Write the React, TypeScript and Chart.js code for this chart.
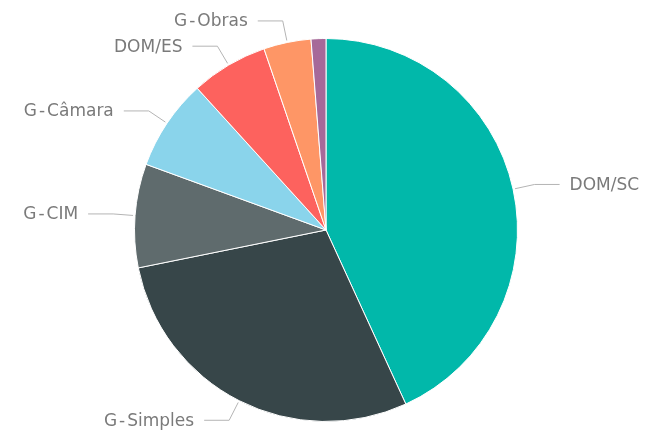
import React, { useEffect, useRef } from "react";
import { Chart, registerables } from "chart.js";

Chart.register(...registerables);

const categories = ["DOM/SC", "G-Simples", "G-CIM", "G-Câmara", "DOM/ES", "G-Obras", "Outros"];
const values = [43.2, 28.7, 8.75, 7.7, 6.5, 4.0, 1.25];
const colors = ["#01B8AA", "#374649", "#5F6B6D", "#8AD4EB", "#FD625E", "#FE9666", "#A66999"];
const showLabel = [true, true, true, true, true, true, false];

function drawLabel(ctx: CanvasRenderingContext2D, text: string, x: number, y: number, alignRight: boolean) {
  // draw with DIN-like spacing around the hyphen
  const pad = 2;
  const parts = text.split(/(-)/);
  const widths = parts.map((p) => ctx.measureText(p).width + (p === "-" ? pad * 2 : 0));
  const total = widths.reduce((a, b) => a + b, 0);
  let cx = alignRight ? x - total : x;
  ctx.textAlign = "left";
  parts.forEach((p, k) => {
    ctx.fillText(p, cx + (p === "-" ? pad : 0), y);
    cx += widths[k];
  });
}

const leaderPlugin = {
  id: "leaderLabels",
  afterDatasetsDraw(chart: any) {
    const ctx = chart.ctx;
    const meta = chart.getDatasetMeta(0);
    ctx.save();
    ctx.font = "17px 'DejaVu Sans'";
    ctx.fillStyle = "#7a7a7a";
    ctx.strokeStyle = "#b4b4b4";
    ctx.lineWidth = 1;
    ctx.textBaseline = "middle";
    meta.data.forEach((arc: any, i: number) => {
      if (!showLabel[i]) return;
      const { x, y, startAngle, endAngle, outerRadius } = arc.getProps(
        ["x", "y", "startAngle", "endAngle", "outerRadius"],
        true
      );
      const mid = (startAngle + endAngle) / 2;
      const cx = Math.cos(mid);
      const cy = Math.sin(mid);
      const sx = x + cx * (outerRadius + 2);
      const sy = y + cy * (outerRadius + 2);
      const ex = x + cx * (outerRadius + 22);
      const ey = y + cy * (outerRadius + 22);
      const right = cx >= 0;
      const hx = ex + (right ? 25 : -25);
      ctx.beginPath();
      ctx.moveTo(sx, sy);
      ctx.lineTo(ex, ey);
      ctx.lineTo(hx, ey);
      ctx.stroke();
      drawLabel(ctx, categories[i], hx + (right ? 10 : -10), ey + 1, !right);
    });
    ctx.restore();
  },
};

export default function App() {
  const ref = useRef<HTMLCanvasElement>(null);
  useEffect(() => {
    document.body.style.margin = "0";
    const chart = new Chart(ref.current!, {
      type: "pie",
      data: {
        labels: categories,
        datasets: [
          {
            data: values,
            backgroundColor: colors,
            borderColor: "#ffffff",
            borderWidth: 1,
            hoverOffset: 0,
          },
        ],
      },
      options: {
        animation: false,
        responsive: true,
        maintainAspectRatio: false,
        layout: { padding: { left: 134, right: 130, top: 38, bottom: 16 } },
        plugins: { legend: { display: false }, tooltip: { enabled: false } },
      },
      plugins: [leaderPlugin],
    });
    return () => chart.destroy();
  }, []);
  return (
    <div style={{ width: 648, height: 438, position: "relative" }}>
      <canvas ref={ref} />
    </div>
  );
}
